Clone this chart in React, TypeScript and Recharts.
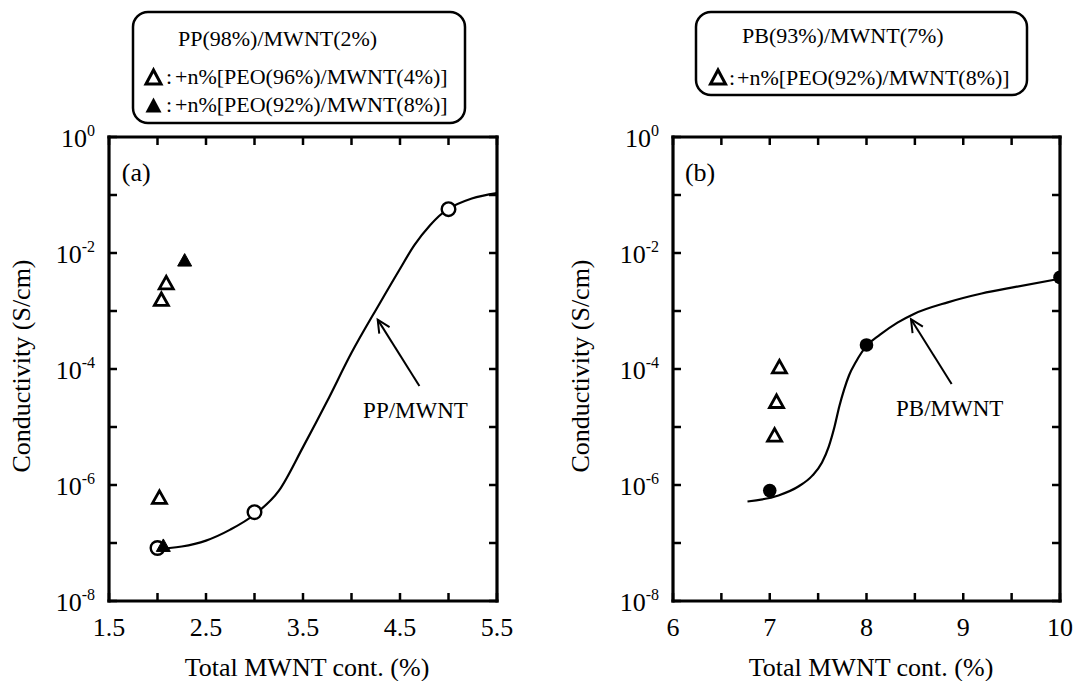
import React from 'react';
import {
  ComposedChart,
  Line,
  Scatter,
  XAxis,
  YAxis,
  ReferenceLine,
  ReferenceDot,
} from 'recharts';

const FONT = '"Liberation Serif", "Times New Roman", serif';

// y ticks shared by both panels (log scale, one per decade)
const decades = [1e-8, 1e-7, 1e-6, 1e-5, 1e-4, 1e-3, 1e-2, 1e-1, 1];

// panel (a): PP(98%)/MWNT(2%)
const aTicks = [1.5, 2, 2.5, 3, 3.5, 4, 4.5, 5, 5.5];
const aLabels = [1.5, 2.5, 3.5, 4.5, 5.5];
const ppMwntX = [2.0, 3.0, 5.0];
const ppMwntY = [8.2e-8, 3.4e-7, 5.7e-2];
const ppPeo4X = [2.02, 2.04, 2.09];
const ppPeo4Y = [6.0e-7, 1.55e-3, 3.0e-3];
const ppPeo8X = [2.06, 2.28];
const ppPeo8Y = [8.9e-8, 7.4e-3];
const ppFitX = [1.95, 2.25, 2.5, 2.75, 3.0, 3.25, 3.5, 3.75, 4.0, 4.28, 4.49, 4.65, 4.81, 4.9, 5.0, 5.24, 5.5];
const ppFitY = [7.9e-8, 8.7e-8, 1.1e-7, 1.7e-7, 3.1e-7, 7.9e-7, 4.5e-6, 2.8e-5, 1.9e-4, 1.26e-3, 5.0e-3, 1.38e-2, 3.0e-2, 4.3e-2, 5.75e-2, 8.7e-2, 0.108];

// panel (b): PB(93%)/MWNT(7%)
const bTicks = [6, 6.5, 7, 7.5, 8, 8.5, 9, 9.5, 10];
const bLabels = [6, 7, 8, 9, 10];
const pbMwntX = [7.0, 8.0, 10.0];
const pbMwntY = [8.0e-7, 2.6e-4, 3.8e-3];
const pbPeo8X = [7.05, 7.07, 7.1];
const pbPeo8Y = [7.1e-6, 2.7e-5, 1.07e-4];
const pbFitX = [6.77, 7.09, 7.3, 7.44, 7.54, 7.61, 7.67, 7.72, 7.77, 7.82, 7.89, 8.0, 8.14, 8.32, 8.49, 8.84, 9.19, 9.54, 10.0];
const pbFitY = [5.2e-7, 6.6e-7, 9.5e-7, 1.45e-6, 2.45e-6, 4.6e-6, 1.02e-5, 2.3e-5, 4.5e-5, 7.8e-5, 1.32e-4, 2.5e-4, 3.9e-4, 6.3e-4, 8.9e-4, 1.41e-3, 2.0e-3, 2.6e-3, 3.6e-3];

const rows = (xs: number[], ys: number[]) => xs.map((x, i) => ({ x, y: ys[i] }));

const YTick = (props: any) => {
  const { x, y, payload, side } = props;
  const exp = Math.round(Math.log10(payload.value));
  const dir = side === 'left' ? 8 : -8;
  return (
    <g>
      <line x1={x} y1={y} x2={x + dir} y2={y} stroke="#000" strokeWidth={2.5} />
      {side === 'left' && exp % 2 === 0 && (
        <text x={x - 14} y={y + 10} textAnchor="end" fontFamily={FONT} fontSize={26} fill="#000">
          10
          <tspan fontSize={16} dy={-11}>
            {exp === 0 ? '0' : `-${-exp}`}
          </tspan>
        </text>
      )}
    </g>
  );
};

const XTick = (props: any) => {
  const { x, y, payload, side, labels } = props;
  const dir = side === 'bottom' ? -8 : 8;
  return (
    <g>
      <line x1={x} y1={y} x2={x} y2={y + dir} stroke="#000" strokeWidth={2.5} />
      {side === 'bottom' && labels.includes(payload.value) && (
        <text x={x} y={y + 35} textAnchor="middle" fontFamily={FONT} fontSize={26} fill="#000">
          {String(payload.value)}
        </text>
      )}
    </g>
  );
};

const openCircle = (p: any) => (
  <circle cx={p.cx} cy={p.cy} r={6.8} fill="#fff" stroke="#000" strokeWidth={2.4} />
);
const fullCircle = (p: any) => <circle cx={p.cx} cy={p.cy} r={6.8} fill="#000" />;
const triangle = (filled: boolean) => (p: any) => (
  <polygon
    points={`${p.cx - 7},${p.cy + 5.5} ${p.cx + 7},${p.cy + 5.5} ${p.cx},${p.cy - 7}`}
    fill={filled ? '#000' : '#fff'}
    stroke="#000"
    strokeWidth={filled ? 1 : 2.8}
  />
);

const arrowShape = (p: any) => {
  const { x1, y1, x2, y2 } = p;
  if ([x1, y1, x2, y2].some((v) => typeof v !== 'number')) return <g />;
  const ang = Math.atan2(y2 - y1, x2 - x1);
  const len = 14;
  const a1 = ang + Math.PI - 0.45;
  const a2 = ang + Math.PI + 0.45;
  return (
    <g>
      <line x1={x1} y1={y1} x2={x2} y2={y2} stroke="#000" strokeWidth={2} />
      <polyline
        points={`${x2 + len * Math.cos(a1)},${y2 + len * Math.sin(a1)} ${x2},${y2} ${x2 + len * Math.cos(a2)},${y2 + len * Math.sin(a2)}`}
        fill="none"
        stroke="#000"
        strokeWidth={2}
      />
    </g>
  );
};

const textAt = (value: string, size: number) => (p: any) => (
  <text x={p.cx} y={p.cy + size * 0.35} textAnchor="middle" fontFamily={FONT} fontSize={size} fill="#000">
    {value}
  </text>
);

interface PanelProps {
  left: number;
  width: number;
  marginLeft: number;
  marginRight: number;
  xDomain: [number, number];
  ticks: number[];
  labels: number[];
  fit: { x: number; y: number }[];
  tag: string;
  tagAt: [number, number];
  name: string;
  nameAt: [number, number];
  arrow: [{ x: number; y: number }, { x: number; y: number }];
  yTitleX: number;
  xTitleX: number;
  children?: React.ReactNode;
}

const Panel = (p: PanelProps) => {
  const axisLine = { stroke: '#000', strokeWidth: 3.2, strokeLinecap: 'square' as const };
  return (
    <div style={{ position: 'absolute', left: p.left, top: 0 }}>
      <ComposedChart
        width={p.width}
        height={681}
        margin={{ top: 127, bottom: 40, left: p.marginLeft, right: p.marginRight }}
      >
        <XAxis
          xAxisId="b"
          dataKey="x"
          type="number"
          domain={p.xDomain}
          ticks={p.ticks}
          interval={0}
          allowDataOverflow
          height={40}
          tickSize={0}
          tickMargin={0}
          tickLine={false}
          axisLine={axisLine}
          tick={(t: any) => <XTick {...t} side="bottom" labels={p.labels} />}
          label={{
            content: () => (
              <text x={p.xTitleX} y={676} textAnchor="middle" fontFamily={FONT} fontSize={26} fill="#000">
                Total MWNT cont. (%)
              </text>
            ),
          }}
        />
        <XAxis
          xAxisId="t"
          orientation="top"
          dataKey="x"
          type="number"
          domain={p.xDomain}
          ticks={p.ticks}
          interval={0}
          allowDataOverflow
          height={10}
          tickSize={0}
          tickMargin={0}
          tickLine={false}
          axisLine={axisLine}
          tick={(t: any) => <XTick {...t} side="top" labels={[]} />}
        />
        <YAxis
          yAxisId="l"
          dataKey="y"
          type="number"
          scale="log"
          domain={[1e-8, 1]}
          ticks={decades}
          interval={0}
          allowDataOverflow
          width={60}
          tickSize={0}
          tickMargin={0}
          tickLine={false}
          axisLine={axisLine}
          tick={(t: any) => <YTick {...t} side="left" />}
          label={{
            content: () => (
              <text
                x={p.yTitleX}
                y={366}
                transform={`rotate(-90 ${p.yTitleX} 366)`}
                textAnchor="middle"
                fontFamily={FONT}
                fontSize={26}
                fill="#000"
              >
                Conductivity (S/cm)
              </text>
            ),
          }}
        />
        <YAxis
          yAxisId="r"
          orientation="right"
          type="number"
          scale="log"
          domain={[1e-8, 1]}
          ticks={decades}
          interval={0}
          allowDataOverflow
          width={10}
          tickSize={0}
          tickMargin={0}
          tickLine={false}
          axisLine={axisLine}
          tick={(t: any) => <YTick {...t} side="right" />}
        />
        <Line
          xAxisId="b"
          yAxisId="l"
          data={p.fit}
          dataKey="y"
          type="monotone"
          stroke="#000"
          strokeWidth={2.2}
          dot={false}
          activeDot={false}
          isAnimationActive={false}
        />
        {p.children}
        <ReferenceLine xAxisId="b" yAxisId="l" segment={p.arrow} shape={arrowShape} />
        <ReferenceDot
          xAxisId="b"
          yAxisId="l"
          x={p.tagAt[0]}
          y={p.tagAt[1]}
          shape={textAt(p.tag, 26)}
        />
        <ReferenceDot
          xAxisId="b"
          yAxisId="l"
          x={p.nameAt[0]}
          y={p.nameAt[1]}
          shape={textAt(p.name, 23)}
        />
      </ComposedChart>
    </div>
  );
};

const openTri = (x: number, y: number) => (
  <polygon points={`${x - 7.5},${y + 7} ${x + 7.5},${y + 7} ${x},${y - 7}`} fill="#fff" stroke="#000" strokeWidth={3} />
);
const fullTri = (x: number, y: number) => (
  <polygon points={`${x - 8},${y + 7.5} ${x + 8},${y + 7.5} ${x},${y - 7.5}`} fill="#000" />
);

const Legends = () => (
  <svg width={1073} height={140} style={{ position: 'absolute', left: 0, top: 0 }}>
    <g fontFamily={FONT} fontSize={22} fill="#000">
      <rect x={133} y={12} width={332} height={111} rx={15} fill="none" stroke="#000" strokeWidth={2.5} />
      <text x={178} y={45.5}>PP(98%)/MWNT(2%)</text>
      {openTri(153.5, 77)}
      <text y={83.5}>
        <tspan x={166}>:</tspan>
        <tspan x={175}>+n%[PEO(96%)/MWNT(4%)]</tspan>
      </text>
      {fullTri(153.5, 105)}
      <text y={111.5}>
        <tspan x={166}>:</tspan>
        <tspan x={175}>+n%[PEO(92%)/MWNT(8%)]</tspan>
      </text>

      <rect x={696} y={12} width={331} height={83} rx={15} fill="none" stroke="#000" strokeWidth={2.5} />
      <text x={742} y={42.5}>PB(93%)/MWNT(7%)</text>
      {openTri(718, 77)}
      <text y={84.5}>
        <tspan x={729}>:</tspan>
        <tspan x={737}>+n%[PEO(92%)/MWNT(8%)]</tspan>
      </text>
    </g>
  </svg>
);

export default function App() {
  return (
    <div style={{ position: 'absolute', left: 0, top: 0, width: 1073, height: 681, background: '#fff', overflow: 'hidden' }}>
      <Legends />
      <Panel
        left={0}
        width={540}
        marginLeft={49}
        marginRight={33}
        xDomain={[1.5, 5.5]}
        ticks={aTicks}
        labels={aLabels}
        fit={rows(ppFitX, ppFitY)}
        tag="(a)"
        tagAt={[1.78, 0.25]}
        name="PP/MWNT"
        nameAt={[4.66, 2.0e-5]}
        arrow={[{ x: 4.7, y: 5.1e-5 }, { x: 4.27, y: 7.1e-4 }]}
        yTitleX={30}
        xTitleX={307}
      >
        <Scatter xAxisId="b" yAxisId="l" data={rows(ppMwntX, ppMwntY)} shape={openCircle} isAnimationActive={false} />
        <Scatter xAxisId="b" yAxisId="l" data={rows(ppPeo4X, ppPeo4Y)} shape={triangle(false)} isAnimationActive={false} />
        <Scatter xAxisId="b" yAxisId="l" data={rows(ppPeo8X, ppPeo8Y)} shape={triangle(true)} isAnimationActive={false} />
      </Panel>
      <Panel
        left={540}
        width={533}
        marginLeft={73}
        marginRight={3}
        xDomain={[6, 10]}
        ticks={bTicks}
        labels={bLabels}
        fit={rows(pbFitX, pbFitY)}
        tag="(b)"
        tagAt={[6.28, 0.25]}
        name="PB/MWNT"
        nameAt={[8.86, 2.1e-5]}
        arrow={[{ x: 8.88, y: 5.5e-5 }, { x: 8.46, y: 7.2e-4 }]}
        yTitleX={49}
        xTitleX={331}
      >
        <Scatter xAxisId="b" yAxisId="l" data={rows(pbPeo8X, pbPeo8Y)} shape={triangle(false)} isAnimationActive={false} />
        <Scatter xAxisId="b" yAxisId="l" data={rows(pbMwntX, pbMwntY)} shape={fullCircle} isAnimationActive={false} />
      </Panel>
    </div>
  );
}
